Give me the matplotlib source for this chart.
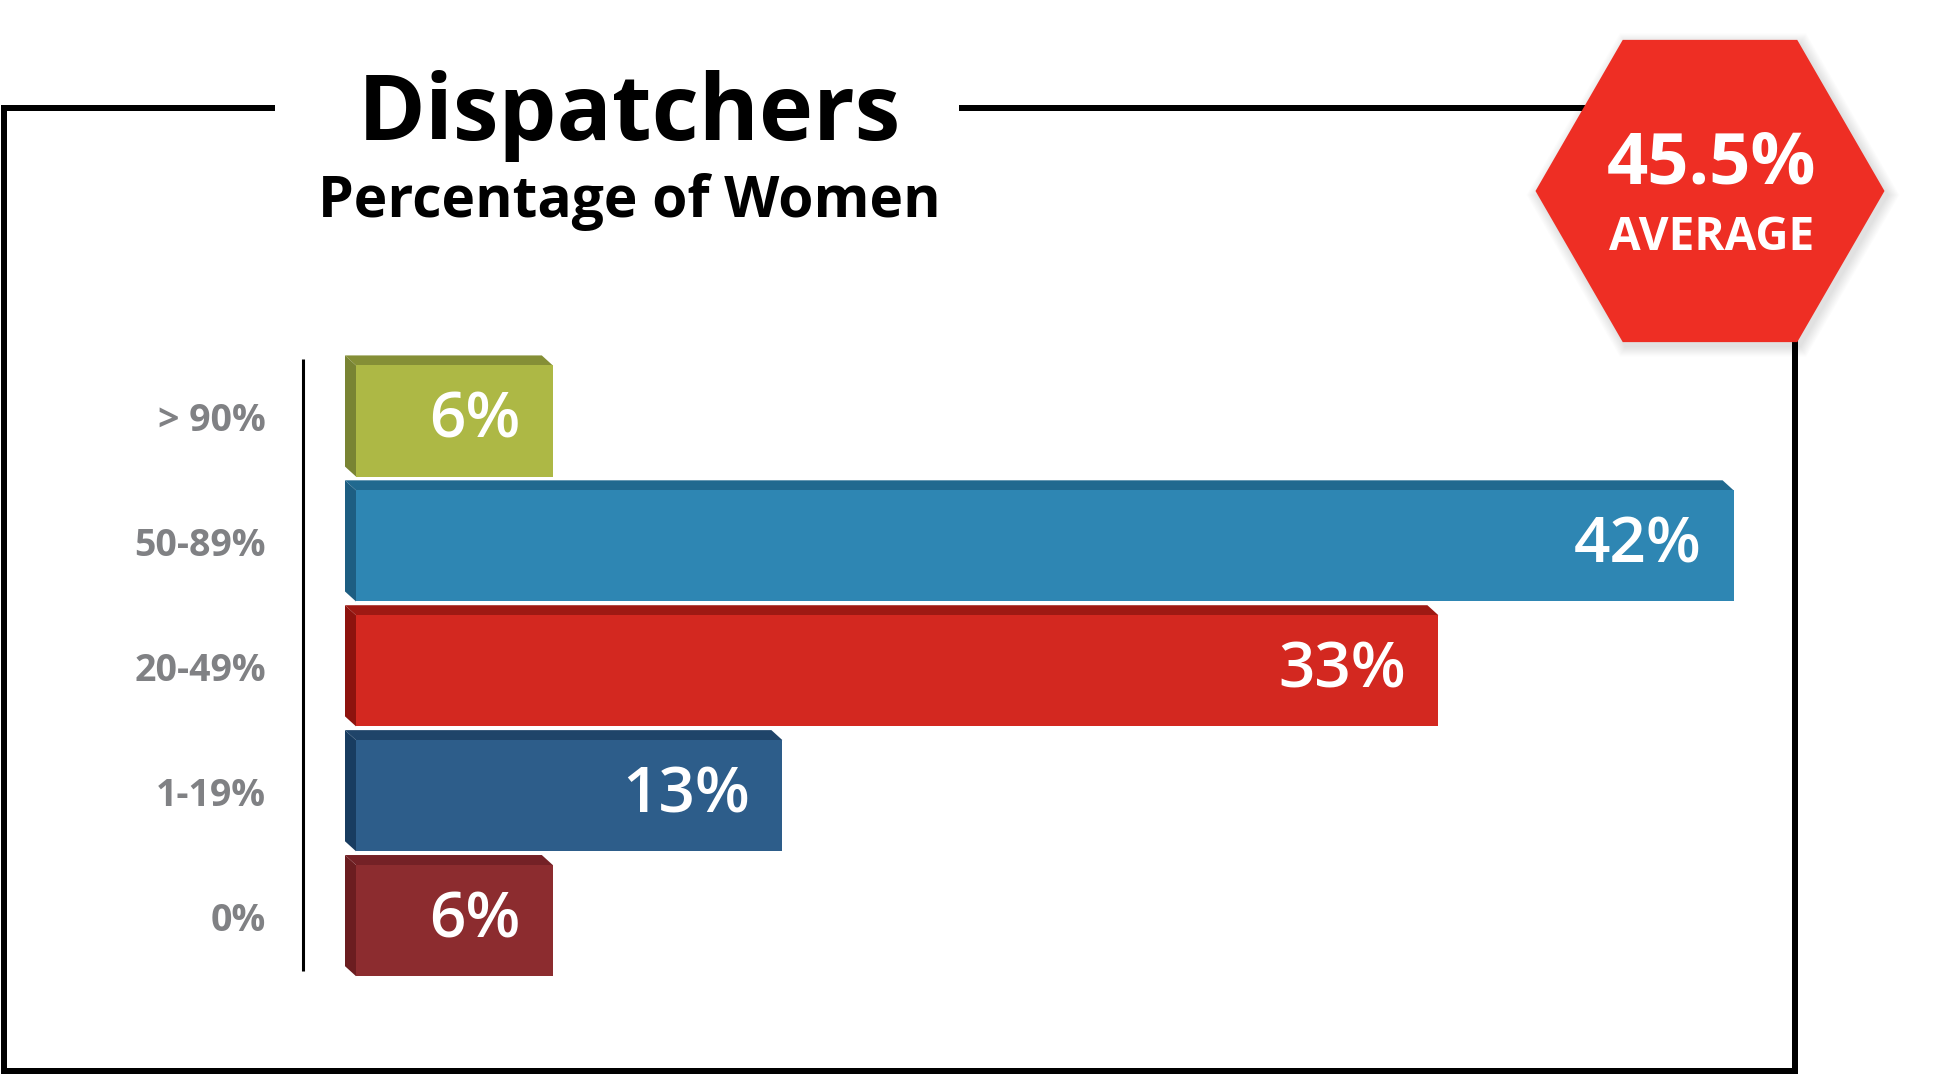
import matplotlib.pyplot as plt
from matplotlib.patches import Polygon, RegularPolygon
import numpy as np

plt.rcParams['font.family'] = ['Open Sans', 'DejaVu Sans']

# data
categories = ['> 90%', '50-89%', '20-49%', '1-19%', '0%']
values = [6, 42, 33, 13, 6]
value_labels = ['6%', '42%', '33%', '13%', '6%']
average_label = '45.5%'

front_colors = ['#ADB845', '#2E86B3', '#D32820', '#2D5D8A', '#8C2C2F']
top_colors = ['#858F36', '#21698F', '#9E1913', '#1F4469', '#742126']
side_colors = ['#798433', '#1D5E82', '#8E130E', '#183C60', '#6B1D20']

W, H = 1937, 1075
fig = plt.figure(figsize=(W / 100, H / 100), dpi=100)
fig.patch.set_facecolor('white')

# overlay in pixel coords for frame, title and badge
ov = fig.add_axes([0, 0, 1, 1])
ov.set_xlim(0, W)
ov.set_ylim(H, 0)
ov.axis('off')

lw = 6 * 72 / 100
for xs, ys in [([4, 275], [108, 108]), ([959, 1600], [108, 108]),
               ([4, 4], [105, 1071]), ([1, 1798], [1071, 1071]),
               ([1795, 1795], [300, 1074])]:
    ov.plot(xs, ys, color='black', lw=lw, solid_capstyle='butt', zorder=1)

# axis line left of bars
ov.plot([303, 303], [359, 971], color='black', lw=2.2, solid_capstyle='butt')

ov.text(629, 140, 'Dispatchers', ha='center', va='baseline', fontsize=66,
        fontweight='bold', color='black')
ov.text(629, 217, 'Percentage of Women', ha='center', va='baseline',
        fontsize=41, fontweight='bold', color='black')

# hexagon badge with soft shadow
cx, cy, r = 1710, 191, 174.5
for i in range(10):
    ov.add_patch(RegularPolygon((cx + 3, cy + 4), 6, radius=r + 12 - i * 1.2,
                                orientation=np.pi / 6, facecolor='#000000',
                                alpha=0.01, lw=0, zorder=4))
ov.add_patch(RegularPolygon((cx, cy), 6, radius=r, orientation=np.pi / 6,
                            facecolor='#EE2E24', lw=0, zorder=5))
ov.text(1712, 184, average_label, ha='center', va='baseline', fontsize=52,
        fontweight='bold', color='white', zorder=6)
ov.text(1712, 250, 'AVERAGE', ha='center', va='baseline', fontsize=33,
        fontweight='bold', color='white', zorder=6)

# bar chart axes
k = 32.8  # px per percent
ax = fig.add_axes([356 / W, (H - 1000) / H, 1500 / W, 660 / H])
ax.set_xlim(0, 1500 / k)
py = 124.9
ax.set_ylim((1000 - 421) / py, (340 - 421) / py)
ax.axis('off')

y = np.arange(len(categories))
h = 0.89
ax.barh(y, values, height=h, color=front_colors, lw=0, zorder=3)

dx = 11 / k
dy = 10 / py
for yi, v, tc, sc, lab in zip(y, values, top_colors, side_colors, value_labels):
    yt = yi - h / 2
    yb = yi + h / 2
    ax.add_patch(Polygon([(0, yt), (v, yt), (v - dx, yt - dy), (-dx, yt - dy)],
                         closed=True, facecolor=tc, lw=0, clip_on=False, zorder=2))
    ax.add_patch(Polygon([(0, yt), (-dx, yt - dy), (-dx, yb - dy), (0, yb)],
                         closed=True, facecolor=sc, lw=0, clip_on=False, zorder=2))
    ax.text(v - 32 / k, yi, lab, ha='right', va='center', fontsize=46,
            fontweight='semibold', color='white', zorder=4)

for yi, c in zip(y, categories):
    ax.text(-90 / k, yi, c, ha='right', va='center', fontsize=27,
            fontweight='bold', color='#808184', clip_on=False)

fig.savefig('out.png', dpi=100, facecolor='white')
